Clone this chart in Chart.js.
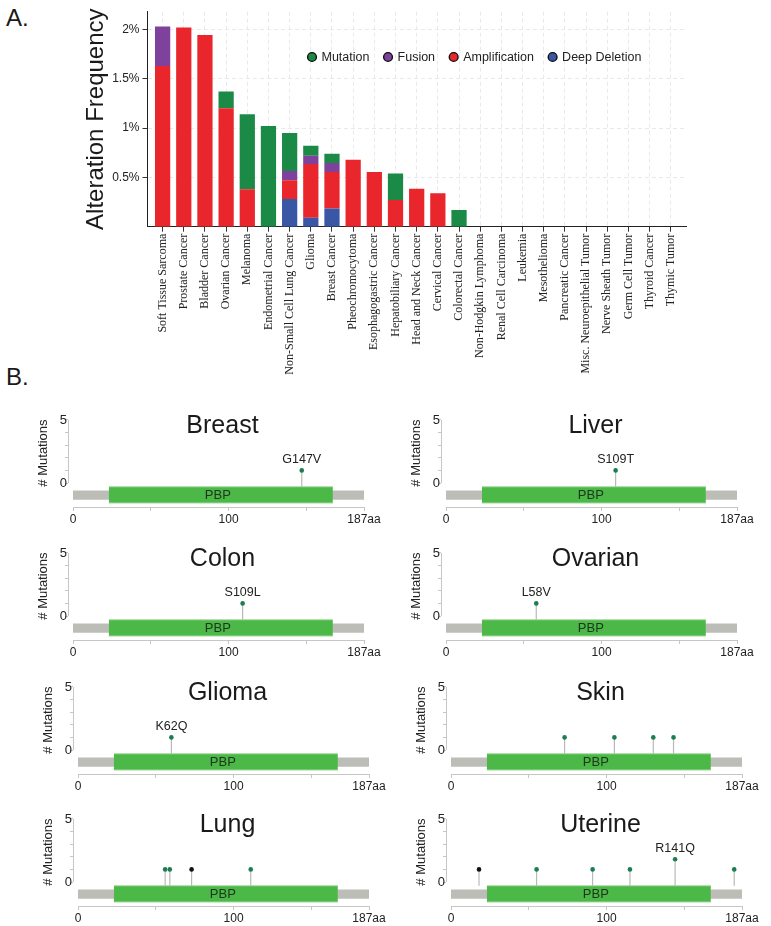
<!DOCTYPE html>
<html><head><meta charset="utf-8">
<script src="https://cdn.jsdelivr.net/npm/chart.js@4.4.1/dist/chart.umd.min.js"></script>
<style>
body{margin:0;background:#fff;width:771px;height:926px;overflow:hidden;position:relative;font-family:"Liberation Sans",Arial,sans-serif;}
canvas{position:absolute;}
.lbl{position:absolute;font-size:24px;line-height:24px;color:#1a1a1a;}
</style></head><body>
<div class="lbl" style="left:6px;top:6px">A.</div>
<div class="lbl" style="left:6px;top:365px">B.</div>
<canvas id="topChart" width="771" height="385" style="left:0;top:0"></canvas>
<script>
// ---------------- DATA (panel A) ----------------
const cancerTypes = ["Soft Tissue Sarcoma","Prostate Cancer","Bladder Cancer","Ovarian Cancer","Melanoma","Endometrial Cancer","Non-Small Cell Lung Cancer","Glioma","Breast Cancer","Pheochromocytoma","Esophagogastric Cancer","Hepatobiliary Cancer","Head and Neck Cancer","Cervical Cancer","Colorectal Cancer","Non-Hodgkin Lymphoma","Renal Cell Carcinoma","Leukemia","Mesothelioma","Pancreatic Cancer","Misc. Neuroepithelial Tumor","Nerve Sheath Tumor","Germ Cell Tumor","Thyroid Cancer","Thymic Tumor"];
const deepDeletion  = [0,0,0,0,0,0,0.28,0.09,0.185,0,0,0,0,0,0,0,0,0,0,0,0,0,0,0,0];
const amplification = [1.63,2.02,1.945,1.20,0.38,0,0.19,0.545,0.37,0.68,0.555,0.27,0.385,0.34,0,0,0,0,0,0,0,0,0,0,0];
const fusion        = [0.40,0,0,0,0,0,0.095,0.085,0.09,0,0,0,0,0,0,0,0,0,0,0,0,0,0,0,0];
const mutation      = [0,0,0,0.17,0.76,1.02,0.385,0.10,0.095,0,0,0.27,0,0,0.17,0,0,0,0,0,0,0,0,0,0];
const seriesNames   = ["Deep Deletion","Amplification","Fusion","Mutation"];
const freqTicks      = [0.5,1,1.5,2];
const freqTickLabels = ["0.5%","1%","1.5%","2%"];
const freqAxisTitle  = "Alteration Frequency";

// ---------------- DATA (panel B) ----------------
const proteinLength = 187;
const domainName = "PBP";
const domainStart = 23;
const domainEnd = 167;
const panelTitles  = ["Breast","Liver","Colon","Ovarian","Glioma","Skin","Lung","Uterine"];
const mutPositions = [[147],[109],[109],[58],[60],[73,105,130,143],[56,59,73,111],[18,55,91,115,144,182]];
const mutCounts    = [[1],[1],[1],[1],[1],[1,1,1,1],[1,1,1,1],[1,1,1,1,1.8,1]];
const mutLabels    = [["G147V"],["S109T"],["S109L"],["L58V"],["K62Q"],["","","",""],["","","",""],["","","","","R141Q",""]];
const mutTypes     = [["missense"],["missense"],["missense"],["missense"],["missense"],["missense","missense","missense","missense"],["missense","missense","truncating","missense"],["truncating","missense","missense","missense","missense","missense"]];
const mutTicks      = [0,1,2,3,4,5];
const mutTickLabels = ["0","","","","","5"];
const aaTicks      = [0,50,100,150,187];
const aaTickLabels = ["0","","100","","187aa"];
const mutAxisTitle = "# Mutations";

// ---------------- STYLE ----------------
const SANS = '"Liberation Sans", Arial, sans-serif';
const SERIF = '"Liberation Serif", "Times New Roman", serif';
Chart.defaults.font.family = SANS;
Chart.defaults.color = '#222';
const SERIES_COLORS = {"Deep Deletion":"#3a57a6","Amplification":"#e8262b","Fusion":"#7e429c","Mutation":"#1c8a47"};
const TYPE_COLORS = {missense:"#1b7d50", truncating:"#111111"};
const BAND = {bbTop:-0.587, bbBot:-1.325, domTop:-0.294, domBot:-1.587};

// ---------------- TOP CHART ----------------
const seriesValues = [deepDeletion, amplification, fusion, mutation];

const freqLegend = {
  id:'freqLegend',
  afterDraw(chart){
    const ctx = chart.ctx, ca = chart.chartArea;
    const items = chart.data.datasets.slice().reverse();
    let x = ca.left + 164.5;
    const y = ca.top + 45.3;
    ctx.save();
    ctx.font = '12.5px ' + SANS;
    ctx.textBaseline = 'middle';
    ctx.textAlign = 'left';
    items.forEach(ds => {
      ctx.beginPath();
      ctx.arc(x, y, 4.4, 0, Math.PI*2);
      ctx.fillStyle = ds.backgroundColor;
      ctx.fill();
      ctx.lineWidth = 1.4;
      ctx.strokeStyle = '#111';
      ctx.stroke();
      ctx.fillStyle = '#222';
      ctx.fillText(ds.label, x + 9.5, y + 0.5);
      x += 9.5 + ctx.measureText(ds.label).width + 18.6;
    });
    ctx.restore();
  }
};

new Chart(document.getElementById('topChart'), {
  type: 'bar',
  data: {
    datasets: seriesNames.map((name, k) => ({
      label: name,
      data: seriesValues[k].map((v, i) => ({x: i, y: v})),
      backgroundColor: SERIES_COLORS[name],
      borderWidth: 0,
      barPercentage: 0.72,
      categoryPercentage: 1
    }))
  },
  options: {
    responsive: false, animation: false, devicePixelRatio: 1,
    layout: {padding: {left: 80, right: 85, top: 11.7, bottom: 0}, autoPadding: false},
    plugins: {legend: {display: false}, tooltip: {enabled: false}},
    scales: {
      x: {
        type: 'linear', stacked: true, offset: false, min: -0.713, max: 24.72,
        afterBuildTicks: s => { s.ticks = cancerTypes.map((c, i) => ({value: i})); },
        afterFit: s => { s.height = 158.3; },
        ticks: {autoSkip: false, minRotation: 90, maxRotation: 90, padding: 2,
          callback: (v, i) => cancerTypes[i],
          font: {family: SERIF, size: 12}, color: '#222'},
        grid: {offset: false, color: '#e9e9e9', lineWidth: 1, tickColor: '#333', tickLength: 5, tickBorderDash: []},
        border: {display: true, color: '#222', width: 1, dash: [4, 3]}
      },
      y: {
        type: 'linear', stacked: true, min: 0, max: 2.18,
        afterBuildTicks: s => { s.ticks = freqTicks.map(v => ({value: v})); },
        afterFit: s => { s.width = 67.5; },
        ticks: {callback: (v, i) => freqTickLabels[i], font: {size: 12}, color: '#222', padding: 3},
        grid: {color: '#e9e9e9', lineWidth: 1, tickColor: '#333', tickLength: 5, tickBorderDash: []},
        border: {display: true, color: '#222', width: 1, dash: [4, 3]},
        title: {display: true, text: freqAxisTitle, font: {size: 24}, color: '#1a1a1a', padding: {top: 1.6, bottom: 0}}
      }
    }
  },
  plugins: [freqLegend]
});

// ---------------- LOLLIPOP PANELS ----------------
const PX_PER_AA = 291 / proteinLength;
const AXIS_GAP = 5;
const panelGeom = [
  {x0:73,   y0:483.3},{x0:446,   y0:483.3},
  {x0:73.3, y0:616},  {x0:446,   y0:616},
  {x0:77.7, y0:750},  {x0:450.7, y0:750},
  {x0:77.7, y0:881.7},{x0:450.7, y0:881.7}
];

const panelDecor = {
  id: 'panelDecor',
  afterDatasetsDraw(chart, args, o) {
    const {ctx, chartArea: ca} = chart;
    const x = chart.scales.x, y = chart.scales.y;
    ctx.save();
    ctx.strokeStyle = '#c6c6c6'; ctx.lineWidth = 1;
    ctx.beginPath();
    const yl = Math.round(ca.left) + 0.5;
    ctx.moveTo(yl, y.getPixelForValue(0)); ctx.lineTo(yl, y.getPixelForValue(5));
    const xb = Math.round(ca.bottom) + 0.5;
    ctx.moveTo(x.getPixelForValue(0), xb); ctx.lineTo(x.getPixelForValue(proteinLength), xb);
    ctx.stroke();
    // domain label
    ctx.font = '13px ' + SANS; ctx.fillStyle = '#1e361e';
    ctx.textAlign = 'center'; ctx.textBaseline = 'middle';
    ctx.fillText(domainName, x.getPixelForValue((domainStart + domainEnd) / 2) - 3,
      y.getPixelForValue((BAND.domTop + BAND.domBot) / 2) + 0.5);
    // mutation labels
    ctx.font = '12.5px ' + SANS; ctx.fillStyle = '#222'; ctx.textBaseline = 'alphabetic';
    o.labels.forEach((t, k) => {
      if (!t) return;
      ctx.fillText(t, x.getPixelForValue(o.positions[k]), y.getPixelForValue(o.counts[k]) - 7);
    });
    // title
    ctx.font = '25px ' + SANS; ctx.fillStyle = '#1a1a1a';
    ctx.fillText(o.title, (x.getPixelForValue(0) + x.getPixelForValue(proteinLength)) / 2 + 4,
      y.getPixelForValue(0) - 50);
    // y axis title
    ctx.translate(ca.left - 25, y.getPixelForValue(0) - 30);
    ctx.rotate(-Math.PI / 2);
    ctx.font = '13px ' + SANS; ctx.fillStyle = '#222'; ctx.textBaseline = 'middle';
    ctx.fillText(mutAxisTitle, 0, 0);
    ctx.restore();
  }
};

panelTitles.forEach((title, i) => {
  const g = panelGeom[i];
  const cv = document.createElement('canvas');
  cv.width = 385; cv.height = 126;
  cv.style.left = (g.x0 - 70) + 'px';
  cv.style.top = (g.y0 - 80) + 'px';
  document.body.appendChild(cv);
  const pos = mutPositions[i], cnt = mutCounts[i], typ = mutTypes[i];
  const stemData = [];
  pos.forEach((p, k) => { stemData.push({x: p, y: BAND.domTop}, {x: p, y: cnt[k]}, {x: p, y: null}); });
  new Chart(cv, {
    type: 'line',
    data: {
      datasets: [
        {data: pos.map((p, k) => ({x: p, y: cnt[k]})), showLine: false, pointRadius: 2.3,
         pointBackgroundColor: typ.map(t => TYPE_COLORS[t]), pointBorderWidth: 0, order: 1},
        {data: stemData, borderColor: '#b9b9b9', borderWidth: 1.2, pointRadius: 0, spanGaps: false, fill: false, order: 2},
        {data: [{x: domainStart, y: BAND.domTop}, {x: domainEnd, y: BAND.domTop}], borderColor: '#a8dda3', borderWidth: 1, pointRadius: 0, fill: false, order: 3},
        {data: [{x: domainStart, y: BAND.domBot}, {x: domainEnd, y: BAND.domBot}], borderColor: '#a8dda3', borderWidth: 1, pointRadius: 0, fill: '-1', backgroundColor: '#4cb848', order: 3},
        {data: [{x: 0, y: BAND.bbTop}, {x: proteinLength, y: BAND.bbTop}], borderWidth: 0, pointRadius: 0, fill: false, order: 4},
        {data: [{x: 0, y: BAND.bbBot}, {x: proteinLength, y: BAND.bbBot}], borderWidth: 0, pointRadius: 0, fill: '-1', backgroundColor: '#bdbdb8', order: 4}
      ]
    },
    options: {
      responsive: false, animation: false, devicePixelRatio: 1,
      layout: {padding: {left: 0, right: 24, top: 80 - 5.6 * 12.61, bottom: 0}, autoPadding: false},
      plugins: {legend: {display: false}, tooltip: {enabled: false},
        panelDecor: {title: title, labels: mutLabels[i], positions: pos, counts: cnt}},
      scales: {
        x: {
          type: 'linear', min: -AXIS_GAP / PX_PER_AA, max: proteinLength,
          afterBuildTicks: s => { s.ticks = aaTicks.map(v => ({value: v})); },
          afterFit: s => { s.height = 22; },
          ticks: {autoSkip: false, maxRotation: 0, padding: 1, callback: (v, k) => aaTickLabels[k], font: {size: 12}, color: '#222'},
          grid: {drawOnChartArea: false, tickLength: 4, tickColor: '#c6c6c6', tickWidth: 1},
          border: {display: false}
        },
        y: {
          type: 'linear', min: -1.9, max: 5.6,
          afterBuildTicks: s => { s.ticks = mutTicks.map(v => ({value: v})); },
          afterFit: s => { s.width = 65; },
          ticks: {padding: -2, callback: (v, k) => mutTickLabels[k], font: {size: 13}, color: '#222'},
          grid: {drawOnChartArea: false, tickLength: 3, tickColor: '#c6c6c6', tickWidth: 1},
          border: {display: false}
        }
      }
    },
    plugins: [panelDecor]
  });
});
</script>
</body></html>
